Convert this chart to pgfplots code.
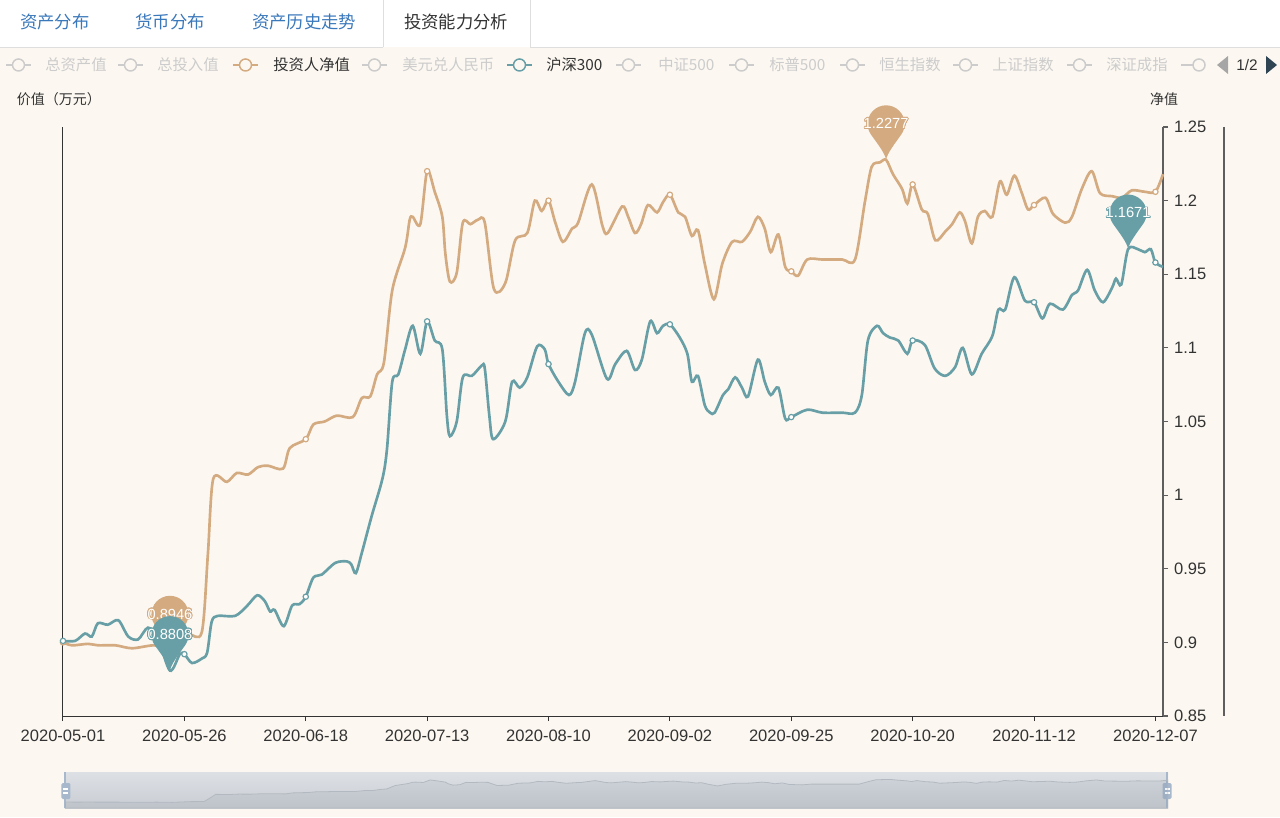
\documentclass[border=0pt]{standalone}
\usepackage{fontspec}
\setmainfont{Liberation Sans}
\newfontfamily\cjk{Noto Sans CJK SC}
\usepackage{pgfplots}
\pgfplotsset{compat=1.18}
\usepackage{pgfplotstable}
\usepackage{contour}
\contourlength{0.55pt}

\definecolor{bgc}{HTML}{FCF8F1}
\definecolor{tanc}{HTML}{D4AA80}
\definecolor{tealc}{HTML}{689FA6}
\definecolor{tabblue}{HTML}{3A78BC}
\definecolor{legoff}{HTML}{CCCCCC}
\definecolor{txt}{HTML}{333333}
\definecolor{axgray}{HTML}{5E5E5E}
\definecolor{handle}{HTML}{A7B7CC}
\definecolor{pagerdark}{HTML}{2F4554}
\definecolor{zoomtop}{HTML}{DDE1E6}
\definecolor{zoombot}{HTML}{C9CDD3}
\definecolor{shadowline}{HTML}{B3B9C0}

% ECharts style balloon pin, tip on the data point
\pgfdeclareplotmark{pin}{%
  \pgfpathmoveto{\pgfpoint{-11.39pt}{19.02pt}}%
  \pgfpatharc{215}{-35}{13.9pt}%
  \pgfpathcurveto{\pgfpoint{6.8pt}{12.5pt}}{\pgfpoint{0.8pt}{5pt}}{\pgfpoint{0pt}{0pt}}%
  \pgfpathcurveto{\pgfpoint{-0.8pt}{5pt}}{\pgfpoint{-6.8pt}{12.5pt}}{\pgfpoint{-11.39pt}{19.02pt}}%
  \pgfpathclose
  \pgfusepathqfill
}

\newcommand\tabfont{\cjk\fontsize{13}{15}\selectfont}
\newcommand\legfont{\cjk\fontsize{11.5}{13}\selectfont}
\newcommand\legicon[2]{%
  \draw[#2, line width=1.1pt] (#1,65) -- ++(25,0);
  \draw[#2, line width=1.1pt, fill=bgc] (#1+12.5,65) circle (6);}
\newcommand\legtext[3]{\node[anchor=west, inner sep=0pt, text=#2] at (#1,65) {\legfont #3};}

% 投资人净值
\pgfplotstableread{
x y
0 0.900
1.2 0.898
3.3 0.899
4.6 0.898
6.9 0.898
9.1 0.896
12.1 0.898
14.1 0.8946
16.5 0.905
18.3 0.907
19.1 0.960
19.8 1.011
21.6 1.009
22.9 1.015
24.4 1.014
25.7 1.019
27.0 1.020
29.0 1.018
29.9 1.032
32.0 1.038
33.0 1.048
34.5 1.050
36.1 1.054
38.2 1.053
39.4 1.066
40.5 1.067
41.4 1.082
42.3 1.090
43.4 1.139
45.1 1.168
45.7 1.187
46.1 1.189
47.1 1.184
48.0 1.220
49.0 1.206
50.0 1.189
50.4 1.164
51.0 1.145
51.9 1.151
52.7 1.185
53.7 1.184
54.7 1.187
55.6 1.185
56.8 1.140
58.3 1.144
59.6 1.173
61.2 1.178
62.2 1.200
63.1 1.193
64.0 1.200
64.9 1.185
65.9 1.172
67.1 1.181
67.9 1.185
69.7 1.211
71.1 1.183
71.8 1.178
73.7 1.196
74.5 1.189
75.4 1.178
76.2 1.184
77.1 1.197
78.3 1.192
79.1 1.199
80.0 1.204
81.1 1.192
82.0 1.189
82.9 1.176
83.7 1.180
84.6 1.157
85.8 1.133
86.9 1.157
88.2 1.172
89.5 1.172
90.6 1.179
91.6 1.189
92.5 1.181
93.3 1.165
94.3 1.177
95.2 1.155
96.0 1.152
96.9 1.149
98.1 1.160
100.1 1.160
102.7 1.160
104.4 1.160
105.7 1.199
106.6 1.223
107.7 1.226
108.5 1.2277
109.4 1.218
110.6 1.208
111.3 1.198
112.0 1.211
113.2 1.194
114.0 1.191
115.0 1.173
116.3 1.179
117.2 1.184
118.2 1.192
118.9 1.186
119.8 1.171
120.6 1.189
121.5 1.193
122.5 1.189
123.5 1.213
124.4 1.204
125.4 1.217
126.4 1.205
127.2 1.194
128.0 1.197
129.5 1.202
130.5 1.191
132.1 1.185
133.0 1.189
134.3 1.208
135.6 1.220
136.7 1.205
138.3 1.203
139.6 1.202
140.9 1.207
142.6 1.206
144.0 1.206
145.0 1.218
}\tanTable

% 沪深300
\pgfplotstableread{
x y
0 0.901
1.6 0.901
2.9 0.906
3.8 0.904
4.6 0.913
5.9 0.912
7.3 0.915
8.6 0.904
9.9 0.902
11.2 0.910
12.5 0.903
14.1 0.8808
15.4 0.892
16.0 0.892
17.0 0.886
18.3 0.889
19.0 0.893
19.6 0.914
20.4 0.918
22.7 0.918
24.3 0.925
25.6 0.932
26.6 0.928
27.3 0.921
27.9 0.922
29.1 0.911
30.2 0.925
31.2 0.926
32.0 0.931
33.0 0.944
34.1 0.946
35.9 0.954
37.4 0.955
38.0 0.953
38.6 0.947
39.4 0.961
40.7 0.986
42.1 1.011
42.7 1.031
43.4 1.077
44.2 1.082
45.1 1.099
46.1 1.115
47.1 1.096
48.0 1.118
49.0 1.105
50.0 1.099
50.6 1.054
51.0 1.040
51.9 1.050
52.7 1.080
53.9 1.081
55.2 1.088
55.6 1.086
56.2 1.054
56.7 1.038
58.3 1.050
59.2 1.077
60.2 1.073
61.2 1.080
62.5 1.101
63.5 1.099
64.0 1.089
65.3 1.077
66.7 1.068
67.5 1.077
68.8 1.110
69.7 1.109
71.7 1.079
72.8 1.089
74.3 1.098
75.4 1.085
76.3 1.092
77.4 1.118
78.3 1.110
79.1 1.115
80.0 1.116
81.3 1.107
82.3 1.096
82.9 1.077
83.7 1.081
84.6 1.061
85.3 1.056
85.9 1.056
87.0 1.068
87.7 1.072
88.6 1.080
89.5 1.073
90.3 1.067
91.6 1.092
92.5 1.077
93.3 1.068
94.3 1.073
95.2 1.052
96.0 1.053
98.1 1.058
100.1 1.056
102.7 1.056
104.4 1.056
105.3 1.068
106.1 1.105
107.3 1.115
108.1 1.110
109.0 1.107
110.1 1.105
111.3 1.096
112.0 1.105
113.6 1.102
114.9 1.086
116.3 1.081
117.6 1.087
118.6 1.100
119.8 1.082
121.1 1.096
122.5 1.108
123.3 1.126
124.2 1.126
125.4 1.148
126.8 1.132
128.0 1.131
129.1 1.120
130.1 1.130
131.8 1.126
133.0 1.136
133.8 1.139
135.0 1.153
136.0 1.139
137.1 1.131
138.3 1.141
138.8 1.147
139.5 1.143
140.4 1.1671
141.7 1.167
142.6 1.165
143.4 1.167
144.0 1.158
145.0 1.155
}\tealTable

\pgfplotstableread{
x y
0 0.900
16 0.905
32 1.038
48 1.220
64 1.200
80 1.204
96 1.152
112 1.211
128 1.197
144 1.206
}\tanDots

\pgfplotstableread{
x y
0 0.901
16 0.892
32 0.931
48 1.118
64 1.089
80 1.116
96 1.053
112 1.105
128 1.131
144 1.158
}\tealDots

\pgfplotstableread{
x y lab
14.1 0.8946 0.8946
108.5 1.2277 1.2277
}\tanPins

\pgfplotstableread{
x y lab
14.1 0.8808 0.8808
140.4 1.1671 1.1671
}\tealPins

\pgfplotsset{
  pinstyle/.style={only marks, mark=pin, mark options={fill=#1, draw=none},
    point meta=explicit symbolic,
    nodes near coords={\contour{#1}{\pgfplotspointmeta}},
    every node near coord/.append style={anchor=center, yshift=27pt,
      text=white, font=\fontsize{11}{13}\selectfont}},
  dotstyle/.style={only marks, mark=*, mark size=2pt,
    mark options={fill=white, draw=#1, line width=0.9pt}},
}

\begin{document}
\begin{tikzpicture}
% page furniture in screen pixels (origin top left)
\begin{scope}[x=0.75pt, y=-0.75pt, shift={(-47.25pt,537pt)}]
  \fill[bgc] (0,0) rectangle (1280,817);
  \fill[white] (0,0) rectangle (1280,47.5);
  \draw[black!13, line width=0.75pt] (0,47.5) -- (383,47.5) (530,47.5) -- (1280,47.5)
        (383,0) -- (383,47.5) (530,0) -- (530,47.5);
  \node[text=tabblue] at (55,22) {\tabfont 资产分布};
  \node[text=tabblue] at (170,22) {\tabfont 货币分布};
  \node[text=tabblue] at (304,22) {\tabfont 资产历史走势};
  \node[text=txt] at (456,22) {\tabfont 投资能力分析};
  % legend
  \legicon{6}{legoff}    \legtext{45}{legoff}{总资产值}
  \legicon{118}{legoff}  \legtext{157}{legoff}{总投入值}
  \legicon{233}{tanc}    \legtext{273}{txt}{投资人净值}
  \legicon{362}{legoff}  \legtext{402}{legoff}{美元兑人民币}
  \legicon{507}{tealc}   \legtext{546}{txt}{沪深300}
  \legicon{616}{legoff}  \legtext{658}{legoff}{中证500}
  \legicon{729}{legoff}  \legtext{769}{legoff}{标普500}
  \legicon{840}{legoff}  \legtext{879}{legoff}{恒生指数}
  \legicon{953}{legoff}  \legtext{992}{legoff}{上证指数}
  \legicon{1067}{legoff} \legtext{1106}{legoff}{深证成指}
  \draw[legoff, line width=1.1pt] (1181,65) -- (1193,65);
  \draw[legoff, line width=1.1pt, fill=bgc] (1199,65) circle (6);
  \fill[black!35] (1228,56) -- (1217,65) -- (1228,74) -- cycle;
  \node[text=txt] at (1247,65) {\fontsize{11.5}{13}\selectfont 1/2};
  \fill[pagerdark] (1266,56) -- (1277,65) -- (1266,74) -- cycle;
  % axis names
  \node[text=txt] at (59,99) {\cjk\fontsize{10.5}{12}\selectfont 价值（万元）};
  \node[text=txt] at (1164,99) {\cjk\fontsize{10.5}{12}\selectfont 净值};
  \draw[axgray, line width=1.1pt] (1224,127) -- (1224,716);
  % data zoom frame
  \shade[top color=zoomtop, bottom color=zoombot] (65,772) rectangle (1168,808);
  \draw[handle, line width=1.5pt] (65,772) -- (65,808) (1167,772) -- (1167,808);
  \foreach \hx in {66,1167}{
    \fill[handle, rounded corners=1pt] (\hx-4.5,783) rectangle (\hx+4.5,799);
    \draw[white, line width=0.8pt] (\hx-2.5,789) -- (\hx+2.5,789) (\hx-2.5,793) -- (\hx+2.5,793);
  }
\end{scope}

\begin{axis}[
  at={(0,0)}, anchor=south west,
  scale only axis, width=825pt, height=441.75pt,
  xmin=0, xmax=145, ymin=0.85, ymax=1.25,
  axis x line*=bottom, axis y line*=right,
  x axis line style={-, draw=txt, line width=0.75pt},
  y axis line style={-, draw=axgray, line width=1.1pt},
  xtick={0,16,32,48,64,80,96,112,128,144},
  xticklabels={2020-05-01,2020-05-26,2020-06-18,2020-07-13,2020-08-10,2020-09-02,2020-09-25,2020-10-20,2020-11-12,2020-12-07},
  ytick={0.85,0.9,0.95,1,1.05,1.1,1.15,1.2,1.25},
  tick align=outside, major tick length=3.75pt,
  xtick style={draw=txt, line width=0.75pt},
  ytick style={draw=axgray, line width=0.9pt},
  tick label style={font=\fontsize{12.4}{14}\selectfont, text=txt},
  /pgf/number format/assume math mode=true,
  xticklabel style={yshift=-3pt},
  yticklabel style={xshift=1pt},
  clip=false,
]
  \draw[txt, line width=0.75pt] (rel axis cs:0,0) -- (rel axis cs:0,1);
  \addplot[tanc, line width=2pt, smooth, tension=0.5, mark=none] table[x=x, y=y] {\tanTable};
  \addplot[dotstyle=tanc] table[x=x, y=y] {\tanDots};
  \addplot[pinstyle=tanc] table[x=x, y=y, meta=lab] {\tanPins};
  \addplot[tealc, line width=2pt, smooth, tension=0.5, mark=none] table[x=x, y=y] {\tealTable};
  \addplot[dotstyle=tealc] table[x=x, y=y] {\tealDots};
  \addplot[pinstyle=tealc] table[x=x, y=y, meta=lab] {\tealPins};
\end{axis}

% data zoom shadow
\begin{axis}[
  at={(1.5pt,-69pt)}, anchor=south west,
  scale only axis, width=827.25pt, height=27pt,
  xmin=0, xmax=145, ymin=0.8127, ymax=1.336,
  axis lines=none, ticks=none,
]
  \addplot[draw=shadowline, line width=0.6pt, fill=pagerdark, fill opacity=0.07] table[x=x, y=y] {\tanTable} \closedcycle;
\end{axis}

\pgfresetboundingbox
\path[use as bounding box, x=0.75pt, y=-0.75pt, shift={(-47.25pt,537pt)}] (0,0) rectangle (1280,817);
\end{tikzpicture}
\end{document}
